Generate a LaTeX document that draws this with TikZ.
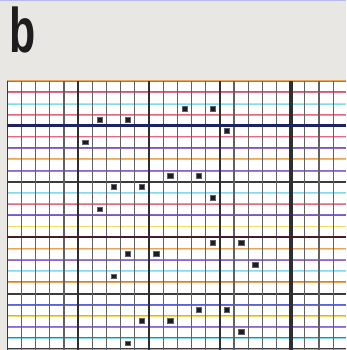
\documentclass[tikz,border=0pt]{standalone}
\usepackage{fontspec}
\setmainfont{Liberation Sans}
\begin{document}
\begin{tikzpicture}[x=1pt,y=-1pt]
\definecolor{cpaper}{HTML}{E8E7E4}\definecolor{cink}{HTML}{1E1E1E}
\definecolor{cor}{HTML}{EAA458}\definecolor{cye}{HTML}{F2DA64}
\definecolor{cre}{HTML}{E26A82}\definecolor{cpu}{HTML}{8A68D0}
\definecolor{cbl}{HTML}{5C64D8}\definecolor{ccy}{HTML}{86DAEE}
\definecolor{cnavy}{HTML}{1E2262}\definecolor{cdred}{HTML}{4A1C24}
\definecolor{cdark}{HTML}{3A3A40}\definecolor{cdot}{HTML}{1B1C26}
\tikzset{rowline/.style={line width=0.8pt},
 rowshade/.style={line width=0.45pt},
 colline/.style={black!62,line width=1.1pt},
 sq/.style={fill=cdot,draw=cdot!70,line width=0.4pt,minimum width=5.4pt,minimum height=4.8pt,inner sep=0pt}}
\useasboundingbox (0,0) rectangle (346,350);
\clip (0,0) rectangle (346,350);
\fill[cpaper] (0,0) rectangle (346,350);
\draw[cbl!45,line width=1.4pt] (0,0.7) -- (346,0.7);
\node[anchor=base west,inner sep=0pt,font=\bfseries\fontsize{63}{63}\selectfont,text=cink] (lbl) at (9.6,52.7) {\scalebox{0.68}[1]{b}};
% grid
\fill[white] (7.3,80.7) rectangle (346,350);
\foreach \j/\ca/\cb in {0/cor/cpu,1/cpu/cre,2/cye/ccy,3/cre/cor,5/cre/cye,6/cbl/cpu,7/cor/ccy,8/cpu/cre,9/cdark/cdark,10/ccy/cye,11/cor/cre,12/cpu/cbl,13/cye/ccy,15/cor/cye,16/cre/cpu,17/ccy/cye,18/cre/cor,19/cdark/cdark,20/cbl/cpu,21/cor/cye,22/cpu/cre,23/cbl/ccy,24/cdark/cor}{
  \draw[rowshade,\cb] (7.3,{80.7+11.17*\j+0.8}) -- (346,{80.7+11.17*\j+0.8});
  \draw[rowline,\ca] (7.3,{80.7+11.17*\j}) -- (346,{80.7+11.17*\j});
}
\foreach \k in {0,...,24}
  \draw[colline] ({7.3+14.17*\k},80.7) -- ({7.3+14.17*\k},350);
\draw[black!78,line width=1.5pt] (7.3,80.7) -- (7.3,350);
\foreach \k/\w in {5/2.4,10/2.7,15/2.7,20/3.8}
  \draw[black!82,line width=\w pt] ({7.3+14.17*\k},80.7) -- ({7.3+14.17*\k},350);
\draw[cnavy,line width=2.2pt] (7.3,125.4) -- (346,125.4);
\draw[cdred,line width=2.2pt] (7.3,237.1) -- (346,237.1);
% squares
\foreach \c/\r [count=\n] in {6/3,8/3,12/2,14/2,15/4,5/5,11/8,13/8,7/9,9/9,14/10,6/11}{
  \node[sq] (a\n) at ({7.3+14.17*(\c+0.5)},{80.7+11.17*(\r+0.5)}) {};
  \node[sq] (b\n) at ({7.3+14.17*(\c+2.5)},{80.7+11.17*(\r+12.5)}) {};
}
\end{tikzpicture}
\end{document}
